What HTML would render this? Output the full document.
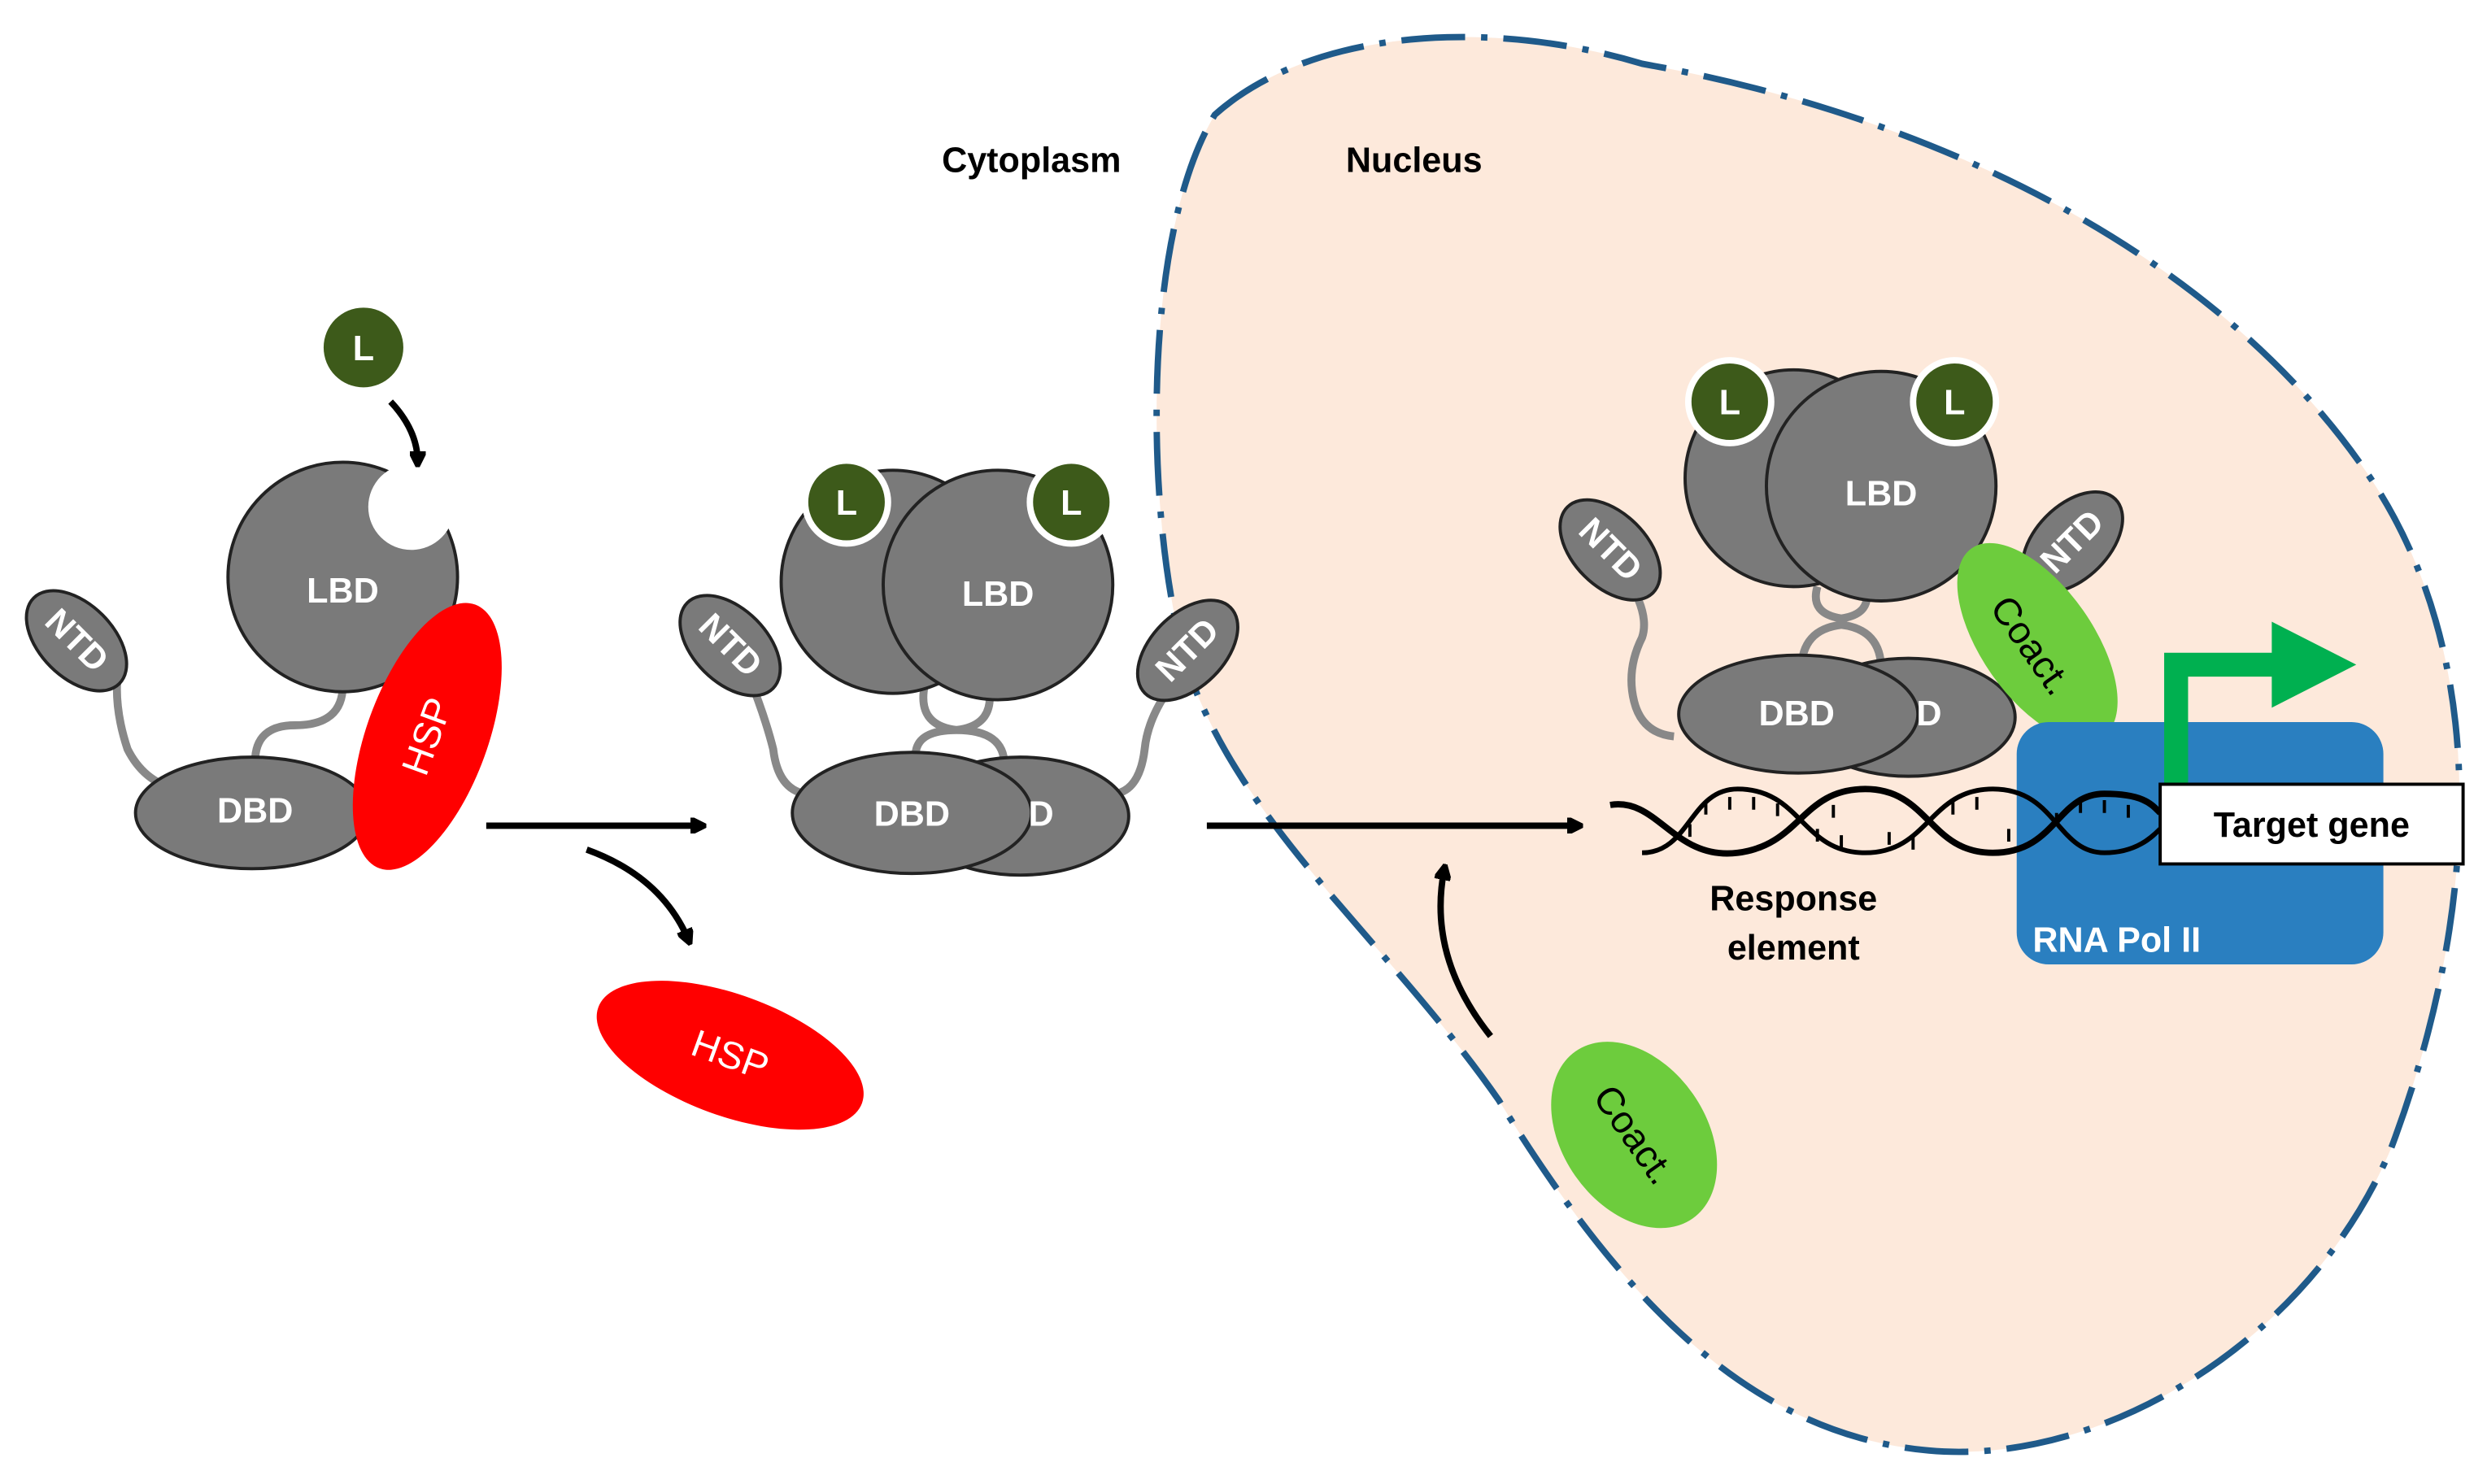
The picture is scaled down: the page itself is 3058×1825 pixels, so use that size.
<!DOCTYPE html>
<html><head><style>html,body{margin:0;padding:0;background:#fff}svg{display:block}</style></head>
<body>
<svg width="3058" height="1825" viewBox="0 0 1560 931" xmlns="http://www.w3.org/2000/svg" font-family="Liberation Sans, sans-serif" font-weight="bold">
<defs>
<marker id="ah" markerWidth="10" markerHeight="10" refX="7" refY="5" orient="auto" markerUnits="userSpaceOnUse"><path d="M0,0 L10,5 L0,10 Z" fill="#000" transform="scale(1.8) translate(-3,-2.2)"/></marker>
</defs>
<path d="M762,72 C820,20 930,10 1030,40 C1200,70 1380,150 1480,290 C1560,400 1560,560 1500,720 C1450,840 1320,920 1210,910 C1100,900 1020,820 940,690 C870,590 780,520 745,420 C718,330 715,150 762,72 Z" fill="#fde9db" stroke="#1f5a8a" stroke-width="4" stroke-dasharray="40,10,4,10"/>
<text x="647" y="108" font-size="22" text-anchor="middle">Cytoplasm</text>
<text x="887" y="108" font-size="22" text-anchor="middle">Nucleus</text>
<g stroke="#222" stroke-width="2" fill="#7a7a7a">
<path d="M75,415 Q70,440 80,470 Q90,490 110,495" fill="none" stroke="#888" stroke-width="5"/>
<path d="M160,478 Q160,455 185,455 Q215,455 215,430" fill="none" stroke="#888" stroke-width="5"/>
<ellipse cx="48" cy="402" rx="38" ry="23" transform="rotate(45 48 402)"/>
<circle cx="215" cy="362" r="72"/>
<circle cx="258" cy="318" r="27" fill="#fff" stroke="none"/>
<ellipse cx="158" cy="510" rx="73" ry="35"/>
<ellipse cx="268" cy="462" rx="38" ry="88" transform="rotate(20 268 462)" fill="#f00" stroke="none"/>
<circle cx="228" cy="218" r="25" fill="#3d5a1a" stroke="none"/>
<ellipse cx="458" cy="662" rx="88" ry="38" transform="rotate(20 458 662)" fill="#f00" stroke="none"/>
<path d="M470,425 Q480,450 485,470 Q488,495 505,498" fill="none" stroke="#888" stroke-width="5"/>
<path d="M735,430 Q720,450 718,470 Q715,495 700,498" fill="none" stroke="#888" stroke-width="5"/>
<path d="M580,430 Q575,455 600,458 Q625,455 620,430 M575,480 Q570,458 600,458 Q630,458 630,480" fill="none" stroke="#888" stroke-width="5"/>
<ellipse cx="458" cy="405" rx="38" ry="23" transform="rotate(45 458 405)"/>
<ellipse cx="745" cy="408" rx="38" ry="23" transform="rotate(-45 745 408)"/>
<circle cx="560" cy="365" r="70"/>
<circle cx="626" cy="367" r="72"/>
<ellipse cx="640" cy="512" rx="68" ry="37"/>
<ellipse cx="572" cy="510" rx="75" ry="38"/>
<circle cx="531" cy="315" r="26" fill="#3d5a1a" stroke="#fff" stroke-width="4"/>
<circle cx="672" cy="315" r="26" fill="#3d5a1a" stroke="#fff" stroke-width="4"/>
<path d="M1020,362 Q1035,385 1030,400 Q1020,420 1025,440 Q1030,460 1050,462" fill="none" stroke="#888" stroke-width="5"/>
<path d="M1140,368 Q1135,385 1155,388 Q1175,385 1170,368 M1130,420 Q1130,395 1155,392 Q1180,395 1180,420" fill="none" stroke="#888" stroke-width="5"/>
<ellipse cx="1010" cy="345" rx="38" ry="23" transform="rotate(45 1010 345)"/>
<ellipse cx="1300" cy="340" rx="38" ry="23" transform="rotate(-45 1300 340)"/>
<circle cx="1125" cy="300" r="68"/>
<circle cx="1180" cy="305" r="72"/>
<ellipse cx="1197" cy="450" rx="67" ry="37"/>
<ellipse cx="1128" cy="448" rx="75" ry="37"/>
<circle cx="1085" cy="252" r="26" fill="#3d5a1a" stroke="#fff" stroke-width="4"/>
<circle cx="1226" cy="252" r="26" fill="#3d5a1a" stroke="#fff" stroke-width="4"/>
</g>
<ellipse cx="1278" cy="403" rx="35" ry="72" transform="rotate(-35 1278 403)" fill="#6dcc3d"/>
<ellipse cx="1025" cy="712" rx="45" ry="64" transform="rotate(-35 1025 712)" fill="#6dcc3d"/>
<rect x="1265" y="453" width="230" height="152" rx="20" fill="#2a7fc0"/>
<path d="M1365,492 V417 H1430" fill="none" stroke="#00b050" stroke-width="15"/>
<path d="M1425,390 L1478,417 L1425,444 Z" fill="#00b050"/>
<g fill="none" stroke="#000" stroke-width="4">
<path d="M1010,505 C1040,500 1050,540 1090,535 C1130,530 1130,495 1170,495 C1210,495 1210,535 1250,535 C1290,535 1290,498 1320,498 C1345,498 1350,505 1355,510"/>
<path d="M1030,535 C1060,535 1060,495 1090,495 C1130,495 1130,535 1170,535 C1210,535 1210,495 1250,495 C1290,495 1290,535 1320,535 C1340,535 1350,525 1355,520" stroke-width="3"/>
</g>
<g stroke="#000" stroke-width="2">
<path d="M1070,503v8M1085,500v8M1100,500v8M1115,504v8M1140,520v8M1155,524v8M1185,522v8M1200,525v8M1225,503v8M1240,500v8M1290,510v8M1305,502v8M1320,502v8M1335,505v8M1060,525v-8M1150,505v8M1260,520v8"/>
</g>
<rect x="1355" y="492" width="190" height="50" fill="#fff" stroke="#000" stroke-width="2"/>
<text x="1450" y="525" font-size="22" text-anchor="middle">Target gene</text>
<text x="1275" y="597" font-size="22" fill="#fff">RNA Pol II</text>
<text x="1125" y="571" font-size="22" text-anchor="middle">Response</text>
<text x="1125" y="602" font-size="22" text-anchor="middle">element</text>
<g fill="none" stroke="#000" stroke-width="4">
<path d="M305,518 H440" marker-end="url(#ah)"/>
<path d="M757,518 H990" marker-end="url(#ah)"/>
<path d="M245,252 Q262,270 262,290" marker-end="url(#ah)"/>
<path d="M368,533 Q415,550 432,590" marker-end="url(#ah)"/>
<path d="M935,650 Q895,600 906,545" marker-end="url(#ah)"/>
</g>
<g fill="#fff" font-size="22" text-anchor="middle">
<text x="228" y="226">L</text>
<text x="531" y="323">L</text>
<text x="672" y="323">L</text>
<text x="1085" y="260">L</text>
<text x="1226" y="260">L</text>
<text x="215" y="378">LBD</text>
<text x="626" y="380">LBD</text>
<text x="1180" y="317">LBD</text>
<text x="160" y="516">DBD</text>
<text x="572" y="518">DBD</text>
<text x="1127" y="455">DBD</text>
<text x="653" y="518">D</text>
<text x="1210" y="455">D</text>
<text transform="translate(48,402) rotate(45)" y="7">NTD</text>
<text transform="translate(458,405) rotate(45)" y="7">NTD</text>
<text transform="translate(745,408) rotate(-45)" y="7">NTD</text>
<text transform="translate(1010,345) rotate(45)" y="7">NTD</text>
<text transform="translate(1300,340) rotate(-45)" y="7">NTD</text>
<text transform="translate(268,462) rotate(-70)" y="8" font-size="24" font-weight="normal">HSP</text>
<text transform="translate(458,662) rotate(20)" y="8" font-size="24" font-weight="normal">HSP</text>
</g>
<text transform="translate(1274,405) rotate(55)" y="8" font-size="24" text-anchor="middle" font-weight="normal">Coact.</text>
<text transform="translate(1025,712) rotate(55)" y="8" font-size="24" text-anchor="middle" font-weight="normal">Coact.</text>
</svg>
</body></html>
